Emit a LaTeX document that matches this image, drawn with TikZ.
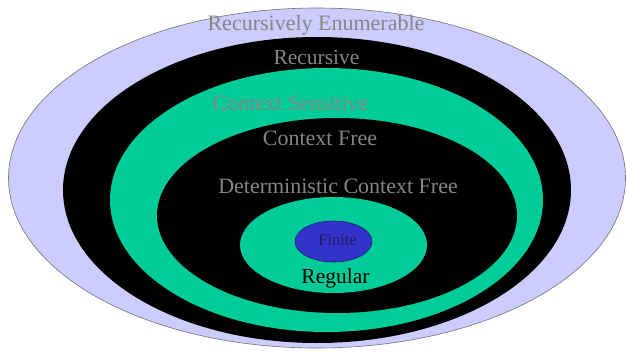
\documentclass[tikz,border=0pt]{standalone}
\usepackage{fontspec}
\setmainfont{Liberation Serif}
\usetikzlibrary{shapes.geometric}

\definecolor{relavender}{HTML}{CCCCFF}
\definecolor{langgreen}{HTML}{00CC99}
\definecolor{finiteblue}{HTML}{3333CC}
\definecolor{finiteedge}{HTML}{22226A}
\definecolor{labelgray}{HTML}{858585}
\definecolor{finitetext}{HTML}{1A1A55}

\tikzset{
  region/.style={ellipse, inner sep=0pt, outer sep=0pt},
  biglabel/.style={font=\fontsize{22}{26}\selectfont, text=labelgray, inner sep=0pt},
}

\begin{document}
\begin{tikzpicture}[x=1pt, y=-1pt]
  \useasboundingbox (0,0) rectangle (626,356);
  \fill[white] (0,0) rectangle (626,356);

  % nested language classes, outermost first
  \node[region, fill=relavender, draw=black!55, line width=0.6pt,
        minimum width=617pt, minimum height=340pt] (re) at (317,178) {};
  \node[region, fill=black, minimum width=508pt, minimum height=306pt] (rec) at (317,190) {};
  \node[region, fill=langgreen, minimum width=433pt, minimum height=264pt] (cs) at (326.5,200) {};
  \node[region, fill=black, minimum width=360pt, minimum height=195pt] (cf) at (337,215.5) {};
  \node[region, fill=langgreen, minimum width=187pt, minimum height=96pt] (reg) at (333.5,245) {};
  \node[region, fill=finiteblue, draw=finiteedge, line width=0.6pt,
        minimum width=77pt, minimum height=41pt] (fin) at (333.5,241.5) {};

  % class names
  \node[biglabel] (lre)  at (316,25)    {Recursively Enumerable};
  \node[biglabel, font=\fontsize{21.5}{26}\selectfont] (lrec) at (316.5,57) {Recursive};
  \node[biglabel] (lcs)  at (290.5,103) {Context Sensitive};
  \node[biglabel] (lcf)  at (320,138)   {Context Free};
  \node[biglabel] (ldcf) at (338,186)   {Deterministic Context Free};
  \node[font=\fontsize{16.5}{20}\selectfont, text=finitetext, inner sep=0pt] (lfin) at (337.5,240) {Finite};
  \node[font=\fontsize{21.5}{26}\selectfont, text=black, inner sep=0pt] (lreg) at (335.5,278) {Regular};
\end{tikzpicture}
\end{document}
